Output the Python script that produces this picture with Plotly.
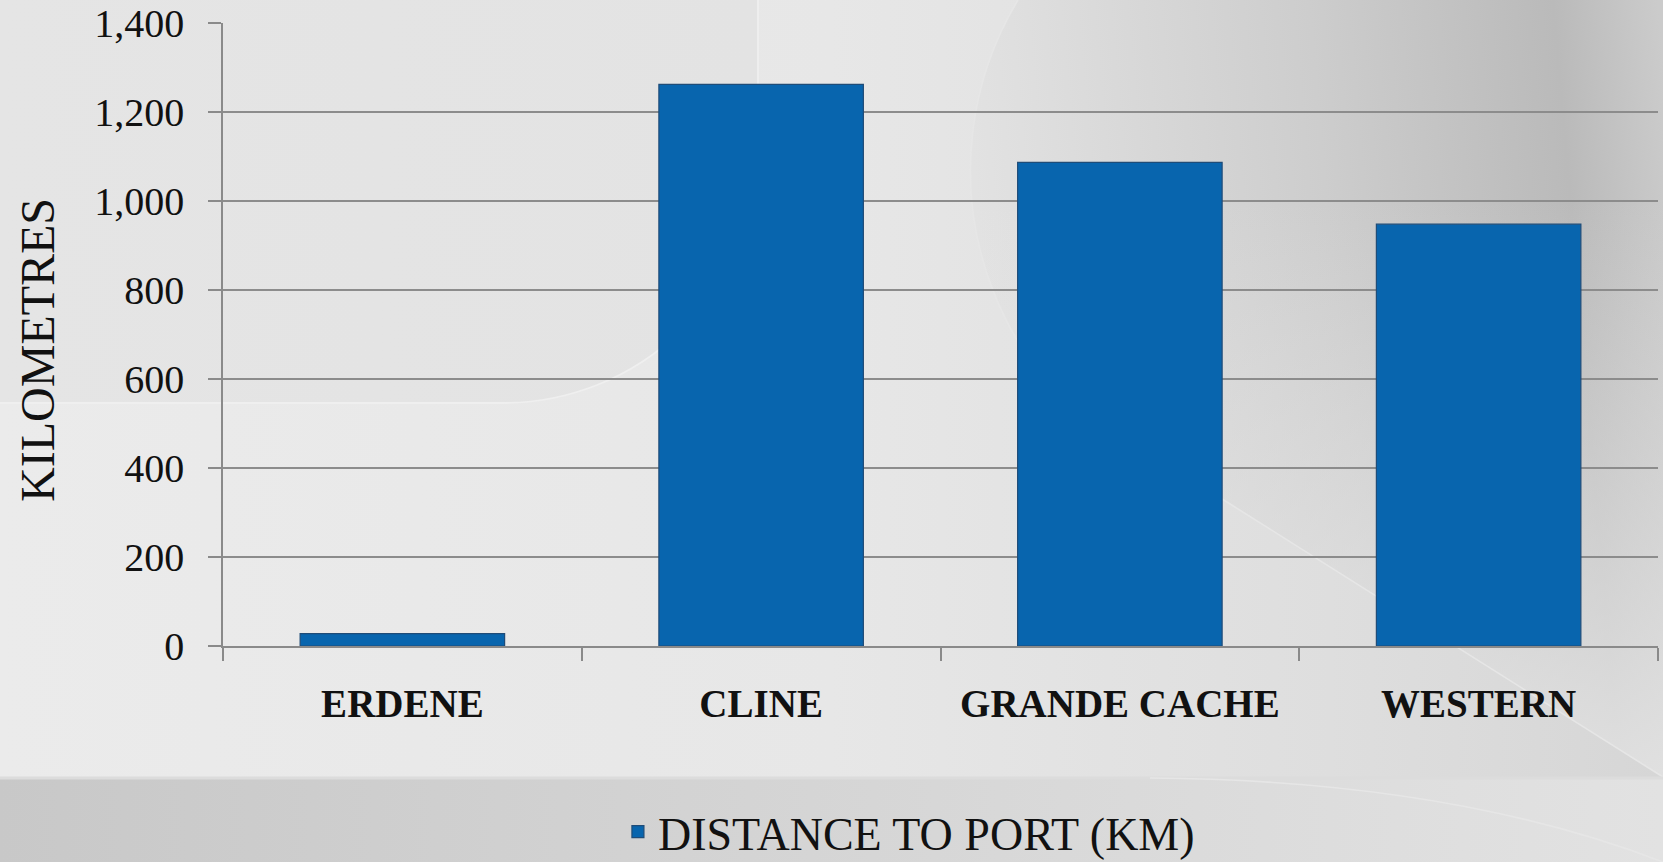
import base64
import plotly.graph_objects as go

# ---------------- data ----------------
categories = ["ERDENE", "CLINE", "GRANDE CACHE", "WESTERN"]
distance_km = [28, 1262, 1087, 948]
series_name = "DISTANCE TO PORT (KM)"
y_tick_values = [0, 200, 400, 600, 800, 1000, 1200, 1400]
y_tick_labels = ["0", "200", "400", "600", "800", "1,000", "1,200", "1,400"]
y_title = "KILOMETRES"

# ---------------- layout geometry ----------------
W, H = 1663, 862
L, R, T, B = 223, 5, 23, 216
PW, PH = W - L - R, H - T - B

SERIF = "Liberation Serif, Times New Roman, serif"

# ---------------- decorative background (SVG) ----------------
svg = f"""<svg xmlns='http://www.w3.org/2000/svg' width='{W}' height='{H}' viewBox='0 0 {W} {H}'>
<defs>
<linearGradient id='base' x1='0' y1='0' x2='1' y2='0'>
<stop offset='0' stop-color='#ebebeb'/><stop offset='0.5' stop-color='#e7e7e7'/>
<stop offset='0.8' stop-color='#dedede'/><stop offset='1' stop-color='#d6d6d6'/>
</linearGradient>
<linearGradient id='disc' x1='970' y1='120' x2='{W}' y2='60' gradientUnits='userSpaceOnUse'>
<stop offset='0' stop-color='#e2e2e2'/><stop offset='0.5' stop-color='#cdcdcd'/>
<stop offset='0.85' stop-color='#bababa'/><stop offset='1' stop-color='#cbcbcb'/>
</linearGradient>
<linearGradient id='fade' x1='0' y1='200' x2='0' y2='780' gradientUnits='userSpaceOnUse'>
<stop offset='0' stop-color='#e6e6e6' stop-opacity='0'/>
<stop offset='1' stop-color='#e6e6e6' stop-opacity='0.85'/>
</linearGradient>
<linearGradient id='tl' x1='0' y1='0' x2='1' y2='0'>
<stop offset='0' stop-color='#e5e5e5'/><stop offset='1' stop-color='#e3e3e3'/>
</linearGradient>
<linearGradient id='band' x1='0' y1='0' x2='{W}' y2='0' gradientUnits='userSpaceOnUse'>
<stop offset='0' stop-color='#c8c8c8'/><stop offset='0.6' stop-color='#d8d8d8'/>
<stop offset='1' stop-color='#e2e2e2'/>
</linearGradient>
<clipPath id='dclip'><path d='M1018,0 A330,330 0 0 0 1200,485 L{W},777 L{W},0 Z'/></clipPath>
</defs>
<rect x='0' y='0' width='{W}' height='{H}' fill='url(#base)'/>
<path d='M0,0 L758,0 L758,150 A255,255 0 0 1 503,403 L0,403 Z' fill='url(#tl)'/>
<path d='M0,403 L503,403 A255,255 0 0 0 758,150 L758,0' fill='none' stroke='#efefef' stroke-width='1.8'/>
<path d='M1018,0 A330,330 0 0 0 1200,485 L{W},777 L{W},0 Z' fill='url(#disc)'/>
<rect x='900' y='0' width='{W-900}' height='800' fill='url(#fade)' clip-path='url(#dclip)'/>
<path d='M1018,0 A330,330 0 0 0 1200,485 L{W},777' fill='none' stroke='#e6e6e6' stroke-width='1.6'/>
<rect x='0' y='778' width='{W}' height='{H-778}' fill='url(#band)'/>
<line x1='0' y1='778' x2='{W}' y2='778' stroke='#dcdcdc' stroke-width='3'/>
<path d='M1150,778 Q1450,780 {W},862' fill='none' stroke='#e6e6e6' stroke-width='1.6'/>
</svg>"""
svg_uri = "data:image/svg+xml;base64," + base64.b64encode(svg.encode("utf-8")).decode("ascii")

# ---------------- figure ----------------
fig = go.Figure()
fig.add_trace(go.Bar(
    x=categories,
    y=distance_km,
    name=series_name,
    marker=dict(color="#0865ae", line=dict(color="#1f4c78", width=1.2)),
    showlegend=True,
))

fig.update_layout(
    width=W, height=H,
    margin=dict(l=L, r=R, t=T, b=B, pad=0, autoexpand=False),
    paper_bgcolor="rgba(0,0,0,0)",
    plot_bgcolor="rgba(0,0,0,0)",
    bargap=0.43,
    font=dict(family=SERIF, color="#111111"),
    showlegend=True,
    legend=dict(
        orientation="h", x=0.478, xanchor="center", y=-0.298, yanchor="middle",
        font=dict(family=SERIF, size=46, color="#111111"),
        bgcolor="rgba(0,0,0,0)",
    ),
    images=[dict(
        source=svg_uri, xref="paper", yref="paper",
        x=-L / PW, y=1 + T / PH, sizex=W / PW, sizey=H / PH,
        xanchor="left", yanchor="top", sizing="stretch", layer="below",
    )],
    annotations=[dict(
        text=y_title, xref="paper", yref="paper",
        x=(37 - L) / PW, y=(H - B - 350) / PH, xanchor="center", yanchor="middle",
        textangle=-90, showarrow=False,
        font=dict(family=SERIF, size=48, color="#111111"),
    )],
)

fig.update_xaxes(
    type="category",
    showline=True, linecolor="#8a8a8a", linewidth=1.5,
    ticks="outside", tickson="boundaries", ticklen=13, tickcolor="#8a8a8a", tickwidth=1.5,
    tickfont=dict(family=SERIF, size=39, color="#111111", weight="bold"),
    ticklabelstandoff=22,
    showgrid=False,
)
fig.update_yaxes(
    range=[0, 1400],
    tickvals=y_tick_values, ticktext=y_tick_labels,
    showline=True, linecolor="#8a8a8a", linewidth=1.5,
    ticks="outside", ticklen=13, tickcolor="#8a8a8a", tickwidth=1.5,
    tickfont=dict(family=SERIF, size=40, color="#111111"),
    ticklabelstandoff=16,
    showgrid=True, gridcolor="#8c8c8c", gridwidth=1.5,
    zeroline=False,
)

fig.write_html("out.html")
